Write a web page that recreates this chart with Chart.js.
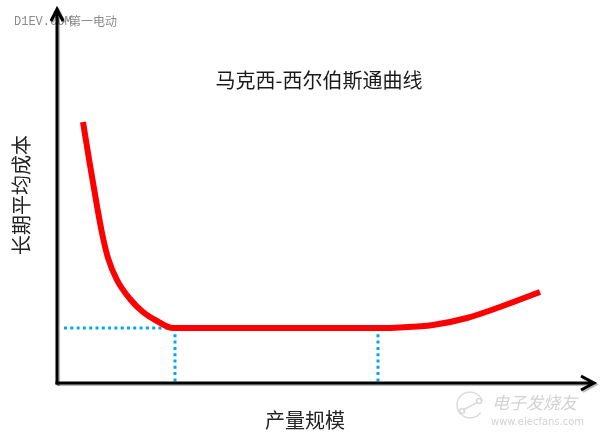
<!DOCTYPE html>
<html>
<head>
<meta charset="utf-8">
<script src="https://cdn.jsdelivr.net/npm/chart.js@4.4.1/dist/chart.umd.min.js"></script>
<style>
  html, body { margin: 0; padding: 0; background: #fff; }
</style>
</head>
<body>
<canvas id="chart" width="600" height="438"></canvas>
<script>
const chartTitle = "马克西-西尔伯斯通曲线";
const xTitle = "产量规模";
const yTitle = "长期平均成本";

// long-run average cost curve (x = output, y = cost)
const costX = [26, 33, 40, 45, 51, 60, 73, 86, 100, 116, 220, 323, 343, 376, 410, 443, 483];
const costY = [261, 218, 177, 150, 125, 103, 84, 71, 62, 55, 55, 55, 55.5, 58, 65, 76, 91];

// dotted guides: minimum cost level, minimum efficient scale, end of flat part
const minCost = 55;
const guideStartX = 7;
const mesX = 118;
const flatEndX = 321;

const FONT = '"Noto Sans CJK SC", "Noto Sans", sans-serif';

const costPoints = costX.map((x, i) => ({ x: x, y: costY[i] }));

function guide(points) {
  return {
    data: points,
    borderColor: '#00a8ec',
    borderWidth: 3,
    borderDash: [3, 3.3],
    pointRadius: 0,
    tension: 0
  };
}

const decor = {
  id: 'decor',
  beforeDatasetsDraw(chart) {
    const ctx = chart.ctx;
    ctx.save();
    // title
    ctx.fillStyle = '#1a1a1a';
    ctx.font = '20px ' + FONT;
    ctx.textAlign = 'center';
    ctx.textBaseline = 'middle';
    ctx.fillText(chartTitle, 319, 80);
    // top-left watermark
    ctx.fillStyle = '#8a8a8a';
    ctx.textAlign = 'left';
    ctx.font = '12px "Liberation Mono", monospace';
    ctx.fillText('D1EV.COM', 14, 22);
    ctx.font = '12px ' + FONT;
    ctx.fillText('第一电动', 69, 21);
    ctx.restore();
  },
  afterDatasetsDraw(chart) {
    const ctx = chart.ctx;
    const a = chart.chartArea;
    const xEnd = a.right + 41;
    ctx.save();
    ctx.strokeStyle = '#000';
    ctx.lineWidth = 3;
    ctx.lineJoin = 'miter';
    ctx.shadowColor = 'rgba(0,0,0,0.3)';
    ctx.shadowOffsetX = 1.5;
    ctx.shadowOffsetY = 1.5;
    ctx.shadowBlur = 1;
    ctx.beginPath();
    ctx.moveTo(a.left, a.bottom + 1.5);
    ctx.lineTo(a.left, a.top + 2);
    ctx.moveTo(a.left - 6, a.top + 14);
    ctx.lineTo(a.left, a.top + 2);
    ctx.lineTo(a.left + 6, a.top + 14);
    ctx.stroke();
    ctx.beginPath();
    ctx.moveTo(a.left - 1.5, a.bottom);
    ctx.lineTo(xEnd, a.bottom);
    ctx.moveTo(xEnd - 13, a.bottom - 7);
    ctx.lineTo(xEnd, a.bottom);
    ctx.lineTo(xEnd - 13, a.bottom + 7);
    ctx.stroke();
    ctx.restore();

    // bottom-right watermark
    ctx.save();
    ctx.strokeStyle = '#dadada';
    ctx.fillStyle = '#d2d2d2';
    ctx.lineWidth = 1.5;
    ctx.beginPath();
    ctx.arc(470, 405, 13, 0.2 * Math.PI, 1.9 * Math.PI);
    ctx.stroke();
    ctx.beginPath();
    ctx.moveTo(463, 410);
    ctx.lineTo(478, 402);
    ctx.stroke();
    ctx.beginPath();
    ctx.arc(462, 411, 2.5, 0, 2 * Math.PI);
    ctx.stroke();
    ctx.beginPath();
    ctx.arc(479, 401, 2.5, 0, 2 * Math.PI);
    ctx.stroke();
    ctx.font = 'italic 17px ' + FONT;
    ctx.textBaseline = 'middle';
    ctx.fillText('电子发烧友', 492, 403);
    ctx.font = '10px "DejaVu Sans", sans-serif';
    ctx.fillText('www.elecfans.com', 491, 422);
    ctx.restore();
  }
};

new Chart(document.getElementById('chart'), {
  type: 'line',
  data: {
    datasets: [
      {
        data: costPoints,
        borderColor: '#ff0000',
        borderWidth: 6,
        pointRadius: 0,
        cubicInterpolationMode: 'monotone'
      },
      guide([{ x: guideStartX, y: minCost }, { x: mesX, y: minCost }]),
      guide([{ x: mesX, y: minCost }, { x: mesX, y: 0 }]),
      guide([{ x: flatEndX, y: minCost }, { x: flatEndX, y: 0 }])
    ]
  },
  options: {
    responsive: false,
    animation: false,
    layout: { padding: { top: 7, right: 47, bottom: 0, left: 0 } },
    plugins: {
      legend: { display: false },
      tooltip: { enabled: false }
    },
    scales: {
      x: {
        type: 'linear',
        min: 0,
        max: 496,
        grid: { display: false, drawTicks: false },
        border: { display: false },
        ticks: { display: false },
        title: {
          display: true,
          text: xTitle,
          color: '#222',
          font: { family: FONT, size: 20 },
          padding: { top: 25, bottom: 6 }
        }
      },
      y: {
        type: 'linear',
        min: 0,
        max: 376,
        grid: { display: false, drawTicks: false },
        border: { display: false },
        ticks: { display: false },
        title: {
          display: true,
          text: yTitle,
          color: '#222',
          font: { family: FONT, size: 20 },
          padding: { top: 9, bottom: 24 }
        }
      }
    }
  },
  plugins: [decor]
});
</script>
</body>
</html>
